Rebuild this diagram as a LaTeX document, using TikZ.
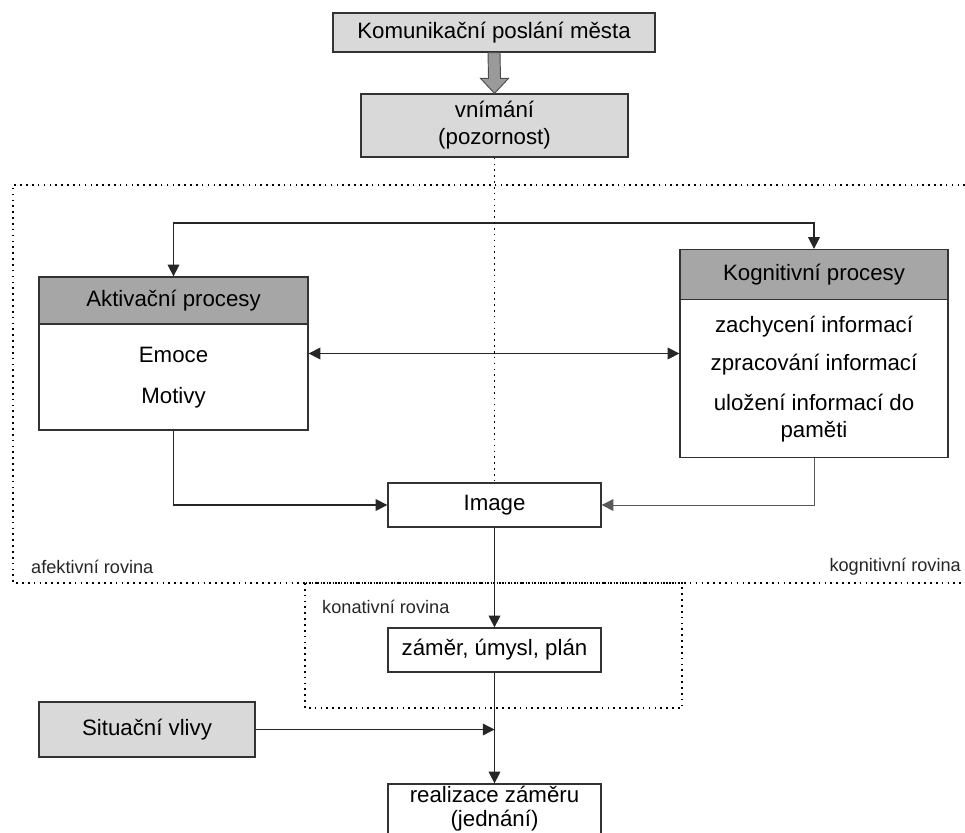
\documentclass[tikz,border=0pt]{standalone}
\usepackage{fontspec}
\setmainfont{Liberation Sans}
\usepackage{xcolor}
\usepackage{tikz}
\usetikzlibrary{calc,arrows.meta,positioning}
\definecolor{paleGrey}{HTML}{D9D9D9}
\definecolor{headGrey}{HTML}{A6A6A6}
\definecolor{pipeGrey}{HTML}{9A9A9A}
\newcommand{\pxu}{0.03cm}

\begin{document}
\begin{tikzpicture}[
        x=\pxu, y=-\pxu,
        font=\fontsize{19}{23}\selectfont,
        greybox/.style={draw=black!80, line width=1.1pt, fill=paleGrey, align=center, inner sep=2pt},
        plainbox/.style={draw=black!80, line width=1.1pt, fill=white, align=center, inner sep=2pt},
        headbox/.style={draw=black!80, line width=1.1pt, fill=headGrey, align=center, inner sep=2pt},
        lbl/.style={font=\fontsize{15.5}{18}\selectfont, text=black!85, inner sep=0pt},
        frame/.style={line width=1.2pt, dash pattern=on 1.4pt off 3.6pt},
        arr/.style={-{Triangle[length=10pt,width=10pt]}, line width=1.1pt, draw=black!85}
    ]
        \useasboundingbox (0,0) rectangle (965,832);

        % --- dotted planes ---
        \draw[frame] (965,185) -- (13,185) -- (13,583) -- (965,583);
        \draw[frame] (305,583) rectangle (682,708);
        \node[lbl, anchor=west] (afekt) at (31,567) {afektivní rovina};
        \node[lbl, anchor=east] (kognit) at (961,567) {kognitivní rovina};
        \node[lbl, anchor=west] (konat) at (322,607) {konativní rovina};

        % --- message and perception ---
        \node[greybox, minimum width=322*\pxu, minimum height=39*\pxu] (msg) at (494,32.5) {Komunikační poslání města};
        \node[greybox, minimum width=267*\pxu, minimum height=63*\pxu] (vnim) at (494.5,125.5) {vnímání\\(pozornost)};
        \filldraw[fill=pipeGrey, draw=black!70, line width=0.8pt]
            ($(msg.south)+(-6,0)$) -- ($(msg.south)+(6,0)$) -- ($(vnim.north)+(6,-15)$)
            -- ($(vnim.north)+(14,-15)$) -- (vnim.north) -- ($(vnim.north)+(-14,-15)$)
            -- ($(vnim.north)+(-6,-15)$) -- cycle;

        % --- the two process blocks ---
        \node[plainbox, minimum width=269*\pxu, minimum height=153*\pxu] (akt) at (173.5,353.5) {};
        \node[headbox, anchor=north, minimum width=269*\pxu, minimum height=47*\pxu] (akthead) at (akt.north) {Aktivační procesy};
        \node[align=center] (aktitems) at ($(akthead.south)!0.5!(akt.south)$) {Emoce\\[12pt]Motivy};

        \node[plainbox, minimum width=268*\pxu, minimum height=208*\pxu] (kog) at (814,353.5) {};
        \node[headbox, anchor=north, minimum width=268*\pxu, minimum height=50*\pxu] (koghead) at (kog.north) {Kognitivní procesy};
        \node[align=center] (kogitems) at ($(koghead.south)!0.5!(kog.south)$) {zachycení informací\\[10pt]zpracování informací\\[11pt]uložení informací do\\paměti};

        \coordinate (fork) at (494,223);
        \draw[arr] (fork) -| (akthead.north);
        \draw[arr] (fork) -| (koghead.north);
        \draw[arr, {Triangle[length=10pt,width=10pt]}-{Triangle[length=10pt,width=10pt]}] (akt.east) -- (kog.west);

        % --- image and intention ---
        \node[plainbox, minimum width=213*\pxu, minimum height=44*\pxu] (img) at (494.5,505) {Image};
        \draw[frame] (vnim.south) -- (img.north);
        \draw[arr] (akt.south) |- (img.west);
        \draw[arr, draw=black!65, line width=0.8pt] (kog.south) |- (img.east);

        \node[plainbox, minimum width=213*\pxu, minimum height=44*\pxu] (zamer) at (494.5,650) {záměr, úmysl, plán};
        \node[greybox, minimum width=216*\pxu, minimum height=55*\pxu] (sit) at (147,729.5) {Situační vlivy};
        \node[plainbox, minimum width=213*\pxu, minimum height=56*\pxu] (real) at (494.5,812) {};
        \node[align=center, inner sep=0pt, font=\fontsize{19}{20}\selectfont] (realtext) at (494.5,808.5) {realizace záměru\\(jednání)};

        \draw[arr] (img.south) -- (zamer.north);
        \draw[arr] (zamer.south) -- (real.north);
        \coordinate (join) at (sit.east -| zamer.south);
        \draw[arr] (sit.east) -- (join);
    \end{tikzpicture}
\end{document}
